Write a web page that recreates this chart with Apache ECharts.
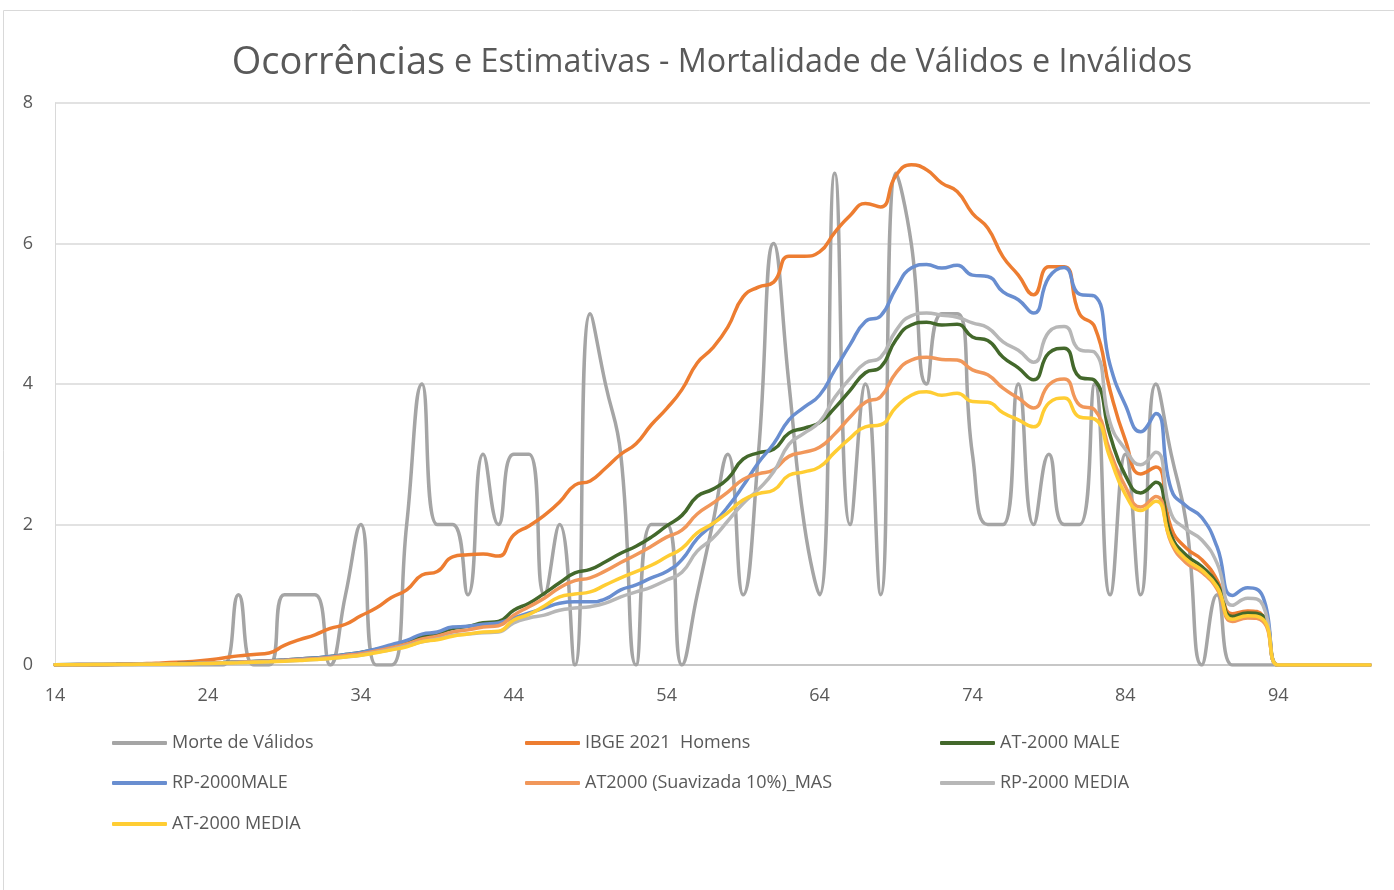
<!DOCTYPE html>
<html>
<head>
<meta charset="utf-8">
<title>Ocorrências e Estimativas</title>
<script src="https://cdn.jsdelivr.net/npm/echarts@6/dist/echarts.min.js"></script>
<style>
	html, body { margin: 0; padding: 0; background: #fff; }
	#chartContainer { width: 1394px; height: 890px; }
</style>
</head>
<body>
<div id="chartContainer"></div>
<script>
// idades 14..100
var ages = [];
for (var a = 14; a <= 100; a++) {
	ages.push(String(a));
}

var yTicks = [0, 2, 4, 6, 8];

var seriesNames = ["Morte de Válidos", "IBGE 2021  Homens", "AT-2000 MALE", "RP-2000MALE",
	"AT2000 (Suavizada 10%)_MAS", "RP-2000 MEDIA", "AT-2000 MEDIA"];

var morteValidos = [
	0, 0, 0, 0, 0, 0, 0, 0, 0, 0, 0, 0,
	1, 0, 0, 1, 1, 1, 0, 1, 2, 0, 0, 2, 4, 2, 2, 1, 3, 2, 3, 3, 1, 2, 0, 5, 4, 3, 0, 2, 2, 0, 1, 2, 3, 1, 3,
	6, 4, 2, 1, 7, 2, 4, 1, 7, 6, 4, 5, 5, 3, 2, 2, 4, 2, 3, 2, 2, 4, 1, 3, 1, 4, 3, 2, 0, 1, 0,
	0, 0, 0, 0, 0, 0, 0, 0, 0
];

var ibge2021 = [
	0, 0, 0, 0.005, 0.01, 0.015, 0.02, 0.03, 0.04, 0.05, 0.07, 0.1,
	0.13, 0.15, 0.17, 0.28, 0.36, 0.43, 0.52, 0.58, 0.7, 0.81, 0.96, 1.07, 1.28, 1.33, 1.54, 1.57, 1.58, 1.55,
	1.85, 1.98, 2.13, 2.32, 2.56, 2.62, 2.8, 3.0, 3.15, 3.42, 3.65, 3.92, 4.3, 4.51, 4.81, 5.24, 5.38,
	5.45, 5.82, 5.82, 5.88, 6.16, 6.4, 6.57, 6.52, 6.97, 7.12, 7.05, 6.86, 6.74, 6.43, 6.22, 5.81, 5.55, 5.27,
	5.67, 5.67, 5.0, 4.81, 3.91, 3.2, 2.72, 2.82, 1.95, 1.66, 1.5, 1.21, 0.73, 0.77, 0.7,
	0, 0, 0, 0, 0, 0, 0
];

var at2000Male = [
	0.005, 0.006, 0.007, 0.008, 0.009, 0.011, 0.013, 0.016, 0.02, 0.025, 0.03, 0.036,
	0.043, 0.05, 0.06, 0.072, 0.086, 0.1, 0.12, 0.15, 0.18, 0.22, 0.27, 0.33, 0.41, 0.45, 0.52, 0.55, 0.6, 0.62,
	0.78, 0.88, 1.02, 1.17, 1.31, 1.36, 1.47, 1.59, 1.69, 1.82, 1.98, 2.13, 2.4, 2.5, 2.65, 2.93, 3.02,
	3.07, 3.3, 3.37, 3.45, 3.66, 3.91, 4.16, 4.24, 4.63, 4.84, 4.88, 4.84, 4.85, 4.67, 4.62, 4.38, 4.23, 4.06,
	4.44, 4.51, 4.1, 4.05, 3.27, 2.7, 2.45, 2.6, 1.84, 1.56, 1.4, 1.16, 0.69, 0.74, 0.7,
	0, 0, 0, 0, 0, 0, 0
];

var rp2000Male = [
	0.004, 0.005, 0.006, 0.007, 0.008, 0.01, 0.012, 0.015, 0.019, 0.024, 0.03, 0.036,
	0.043, 0.05, 0.06, 0.07, 0.085, 0.1, 0.12, 0.15, 0.18, 0.23, 0.29, 0.35, 0.44, 0.47, 0.54, 0.55, 0.58, 0.6,
	0.67, 0.74, 0.81, 0.88, 0.9, 0.9, 0.94, 1.07, 1.14, 1.24, 1.33, 1.5, 1.8, 2.0, 2.25, 2.55, 2.88,
	3.15, 3.49, 3.67, 3.84, 4.2, 4.56, 4.89, 4.97, 5.36, 5.65, 5.7, 5.65, 5.69, 5.55, 5.53, 5.31, 5.2, 5.01,
	5.52, 5.66, 5.28, 5.25, 4.27, 3.7, 3.32, 3.58, 2.5, 2.26, 2.1, 1.68, 0.99, 1.1, 0.97,
	0, 0, 0, 0, 0, 0, 0
];

var at2000Suav = [
	0.004, 0.005, 0.006, 0.007, 0.008, 0.01, 0.012, 0.014, 0.017, 0.022, 0.027, 0.032,
	0.039, 0.045, 0.054, 0.065, 0.077, 0.09, 0.108, 0.135, 0.162, 0.2, 0.245, 0.3, 0.37, 0.41, 0.47, 0.5, 0.54, 0.56,
	0.71, 0.83, 0.95, 1.1, 1.2, 1.24, 1.34, 1.46, 1.57, 1.69, 1.82, 1.92, 2.15, 2.3, 2.46, 2.64, 2.72,
	2.78, 2.97, 3.03, 3.1, 3.29, 3.53, 3.74, 3.82, 4.16, 4.34, 4.38, 4.35, 4.34, 4.2, 4.13, 3.94, 3.8, 3.66,
	3.99, 4.07, 3.7, 3.63, 3.04, 2.54, 2.25, 2.4, 1.74, 1.45, 1.32, 1.08, 0.62, 0.67, 0.62,
	0, 0, 0, 0, 0, 0, 0
];

var rp2000Media = [
	0.003, 0.004, 0.005, 0.006, 0.007, 0.008, 0.01, 0.012, 0.015, 0.019, 0.023, 0.028,
	0.034, 0.04, 0.048, 0.057, 0.068, 0.08, 0.095, 0.115, 0.14, 0.18, 0.22, 0.27, 0.33, 0.37, 0.42, 0.44, 0.46, 0.47,
	0.6, 0.67, 0.71, 0.78, 0.81, 0.83, 0.88, 0.97, 1.04, 1.11, 1.21, 1.32, 1.62, 1.8, 2.05, 2.3, 2.5,
	2.75, 3.14, 3.3, 3.46, 3.81, 4.08, 4.3, 4.38, 4.76, 4.97, 5.01, 4.98, 4.95, 4.87, 4.8, 4.6, 4.48, 4.31,
	4.74, 4.82, 4.49, 4.45, 3.45, 3.07, 2.85, 3.03, 2.15, 1.93, 1.78, 1.45, 0.85, 0.95, 0.85,
	0, 0, 0, 0, 0, 0, 0
];

var at2000Media = [
	0.003, 0.004, 0.005, 0.006, 0.007, 0.008, 0.01, 0.012, 0.014, 0.018, 0.022, 0.027,
	0.032, 0.038, 0.045, 0.054, 0.065, 0.077, 0.092, 0.115, 0.14, 0.175, 0.215, 0.26, 0.33, 0.36, 0.41, 0.44, 0.47, 0.48,
	0.64, 0.72, 0.84, 0.97, 1.01, 1.04, 1.14, 1.24, 1.33, 1.42, 1.54, 1.66, 1.88, 2.01, 2.17, 2.35, 2.44,
	2.49, 2.7, 2.75, 2.82, 3.03, 3.23, 3.39, 3.42, 3.67, 3.84, 3.89, 3.84, 3.87, 3.75, 3.74, 3.59, 3.49, 3.39,
	3.73, 3.8, 3.53, 3.5, 2.95, 2.43, 2.2, 2.33, 1.77, 1.5, 1.35, 1.11, 0.65, 0.7, 0.65,
	0, 0, 0, 0, 0, 0, 0
];

var colors = ["#A5A5A5", "#ED7D31", "#43682B", "#698ED0", "#F1975A", "#B7B7B7", "#FFCD33"];

// posicao das legendas (3 colunas)
var legendPos = [
	[112, 734], [525, 734], [940, 734],
	[112, 774], [525, 774], [940, 774],
	[112, 815]
];

var option = null;

function initOption() {
	var dataList = [morteValidos, ibge2021, at2000Male, rp2000Male, at2000Suav, rp2000Media, at2000Media];
	var series = [];
	var legends = [];
	for (var i = 0; i < seriesNames.length; i++) {
		series.push({
			name: seriesNames[i],
			type: 'line',
			data: dataList[i],
			smooth: 0.5,
			symbol: 'none',
			lineStyle: { width: 3.5, color: colors[i], cap: 'round' },
			itemStyle: { color: colors[i] }
		});
		legends.push({
			data: [seriesNames[i]],
			left: legendPos[i][0],
			top: legendPos[i][1],
			padding: 0,
			icon: 'roundRect',
			itemWidth: 55,
			itemHeight: 4,
			selectedMode: false,
			textStyle: { color: '#595959', fontSize: 18, fontFamily: 'Open Sans' }
		});
	}

	option = {
		animation: false,
		color: colors,
		graphic: [{
			type: 'rect',
			shape: { x: 3.5, y: 10.5, width: 1500, height: 1000 },
			style: { fill: 'none', stroke: '#D9D9D9', lineWidth: 1 },
			silent: true
		}],
		title: {
			text: '{a|Ocorrências} {b|e Estimativas - Mortalidade de Válidos e Inválidos}',
			left: 707,
			top: 39,
			textAlign: 'center',
			textStyle: {
				fontWeight: 'normal',
				fontSize: 32,
				rich: {
					a: { fontSize: 38, color: '#595959', fontFamily: 'Open Sans', fontWeight: 'normal' },
					b: { fontSize: 32.3, color: '#595959', fontFamily: 'Open Sans', fontWeight: 'normal' }
				}
			}
		},
		legend: legends,
		grid: {
			left: 55,
			right: 24,
			top: 103,
			bottom: 225
		},
		xAxis: {
			type: 'category',
			boundaryGap: false,
			data: ages,
			axisLine: { lineStyle: { color: '#BFBFBF', width: 1.5 } },
			axisTick: { show: false },
			axisLabel: { interval: 9, margin: 22, color: '#595959', fontSize: 18, fontFamily: 'Open Sans' },
			splitLine: { show: false }
		},
		yAxis: {
			type: 'value',
			min: yTicks[0],
			max: yTicks[yTicks.length - 1],
			interval: 2,
			axisLine: { show: true, lineStyle: { color: '#D9D9D9' } },
			axisTick: { show: false },
			axisLabel: { margin: 22, color: '#595959', fontSize: 18, fontFamily: 'Open Sans' },
			splitLine: { lineStyle: { color: '#D9D9D9', width: 1.5 } }
		},
		series: series
	};
}

initOption();
var chartContainer = echarts.init(document.getElementById('chartContainer'));
chartContainer.setOption(option);
</script>
</body>
</html>
